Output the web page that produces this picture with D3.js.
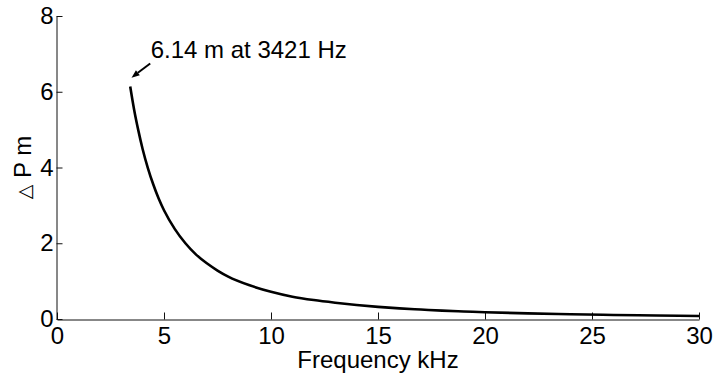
<!DOCTYPE html>
<html>
<head>
<meta charset="utf-8">
<script src="https://cdn.jsdelivr.net/npm/d3@7"></script>
<style>
  html, body { margin: 0; padding: 0; background: #fff; }
  svg { display: block; font-family: "Liberation Sans", Arial, sans-serif; }
</style>
</head>
<body>
<svg id="chart" width="714" height="377"></svg>
<script>
// Pressure drop versus excitation frequency
const freqKHz = [3.421, 3.6, 3.8, 4, 4.25, 4.5, 4.75, 5, 5.5, 6, 6.5, 7, 7.5, 8, 9, 10,
                 11, 12, 13, 14, 15, 16, 17, 18, 19, 20, 22, 24, 26, 28, 30];
const deltaP  = [6.14, 5.54, 4.98, 4.49, 3.98, 3.55, 3.18, 2.87, 2.38, 2.00, 1.70, 1.47, 1.28, 1.12, 0.89, 0.72,
                 0.59, 0.50, 0.43, 0.37, 0.32, 0.28, 0.25, 0.22, 0.20, 0.18, 0.148, 0.125, 0.106, 0.092, 0.080];
const xTicks = [0, 5, 10, 15, 20, 25, 30];
const yTicks = [0, 2, 4, 6, 8];

const svg = d3.select("#chart");
const plotLeft = 57, plotRight = 699, plotTop = 16, plotBottom = 319;

const x = d3.scaleLinear().domain([0, 30]).range([plotLeft, plotRight]);
const y = d3.scaleLinear().domain([0, 8]).range([plotBottom, plotTop]);

const fontSize = 24;

// Axes (ticks point inward)
const xAxis = svg.append("g")
  .attr("transform", `translate(0,${plotBottom + 0.5})`)
  .call(d3.axisBottom(x).tickValues(xTicks).tickFormat(d3.format("d"))
    .tickSizeInner(-7).tickSizeOuter(0).tickPadding(7));
const yAxis = svg.append("g")
  .attr("transform", `translate(${plotLeft - 0.5},0)`)
  .call(d3.axisLeft(y).tickValues(yTicks).tickFormat(d3.format("d"))
    .tickSizeInner(-6).tickSizeOuter(0).tickPadding(3));

[xAxis, yAxis].forEach(g => {
  g.attr("font-family", null).attr("font-size", null);
  g.selectAll("text").style("font-size", fontSize + "px").attr("fill", "#000");
  g.select(".domain").attr("stroke", "#111").attr("stroke-width", 1);
  g.selectAll(".tick line").attr("stroke", "#111").attr("stroke-width", 1);
});

// Curve
const pts = freqKHz.map((f, i) => [f, deltaP[i]]);
const line = d3.line().x(d => x(d[0])).y(d => y(d[1])).curve(d3.curveMonotoneX);
svg.append("path")
  .datum(pts)
  .attr("d", line)
  .attr("fill", "none")
  .attr("stroke", "#000")
  .attr("stroke-width", 2.6);

// Peak annotation
const peakF = freqKHz[0], peakP = deltaP[0];
const px = x(peakF), py = y(peakP);
const head = [px + 1.3, py - 8.8];
const tail = [px + 20, py - 23];
const ang = Math.atan2(head[1] - tail[1], head[0] - tail[0]);
const hl = 8, hw = 3.2;
const base = [head[0] - hl * Math.cos(ang), head[1] - hl * Math.sin(ang)];
svg.append("line")
  .attr("x1", tail[0]).attr("y1", tail[1])
  .attr("x2", base[0]).attr("y2", base[1])
  .attr("stroke", "#000").attr("stroke-width", 2);
svg.append("polygon")
  .attr("points", [
    head,
    [base[0] + hw * Math.sin(ang), base[1] - hw * Math.cos(ang)],
    [base[0] - hw * Math.sin(ang), base[1] + hw * Math.cos(ang)]
  ].map(p => p.join(",")).join(" "))
  .attr("fill", "#000");
svg.append("text")
  .attr("x", px + 20.5)
  .attr("y", py - 28)
  .style("font-size", fontSize + "px")
  .text(`${peakP.toFixed(2)} m at ${Math.round(peakF * 1000)} Hz`);

// Axis titles
svg.append("text")
  .attr("x", (plotLeft + plotRight) / 2)
  .attr("y", 368)
  .attr("text-anchor", "middle")
  .style("font-size", fontSize + "px")
  .text("Frequency kHz");

const yTitle = svg.append("text")
  .attr("transform", `translate(31,${(plotTop + plotBottom) / 2}) rotate(-90)`)
  .attr("text-anchor", "middle")
  .style("font-size", fontSize + "px");
yTitle.append("tspan").style("font-family", "DejaVu Sans").style("font-size", "19px").text("△");
yTitle.append("tspan").text(" P m");
</script>
</body>
</html>
